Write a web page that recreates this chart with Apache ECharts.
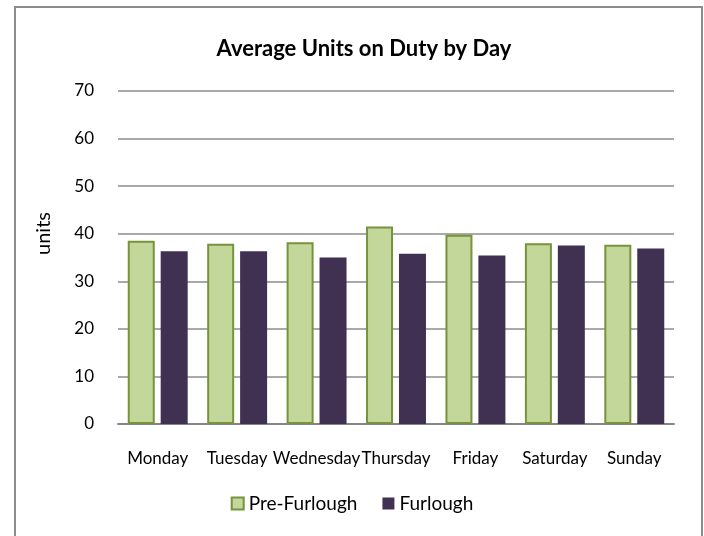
<!DOCTYPE html>
<html>
<head>
<meta charset="utf-8">
<script src="https://cdn.jsdelivr.net/npm/echarts@6/dist/echarts.min.js"></script>
<style>
  html, body { margin: 0; padding: 0; background: #fff; }
  #chart { width: 704px; height: 536px; }
</style>
</head>
<body>
<div id="chart"></div>
<script>
// data
var days = ['Monday', 'Tuesday', 'Wednesday', 'Thursday', 'Friday', 'Saturday', 'Sunday'];
var preFurlough = [38.5, 37.9, 38.2, 41.5, 39.8, 38.0, 37.7];
var furlough = [36.3, 36.3, 35.0, 35.8, 35.4, 37.5, 36.9];

var font = 'Lato';
var myChart = echarts.init(document.getElementById('chart'));

var option = {
  animation: false,
  backgroundColor: '#fff',
  graphic: [{
    type: 'rect',
    shape: { x: 15, y: 7, width: 687, height: 540 },
    style: { fill: 'none', stroke: '#8c8c8c', lineWidth: 2 }
  }],
  title: {
    text: 'Average Units on Duty by Day',
    left: 359,
    textAlign: 'center',
    top: 33,
    textStyle: { fontFamily: font, fontSize: 22, fontWeight: 'bold', color: '#000' }
  },
  legend: {
    bottom: 18,
    left: 'center',
    itemWidth: 12,
    itemHeight: 12,
    itemGap: 25,
    icon: 'rect',
    textStyle: { fontFamily: font, fontSize: 19, color: '#000' },
    data: ['Pre-Furlough', 'Furlough']
  },
  grid: { left: 118, right: 30, top: 91, bottom: 112, containLabel: false },
  xAxis: {
    type: 'category',
    data: days,
    axisLine: { lineStyle: { color: '#868686', width: 2 } },
    axisTick: { show: false },
    axisLabel: { fontFamily: font, fontSize: 17, color: '#000', margin: 26, interval: 0 }
  },
  yAxis: {
    type: 'value',
    min: 0,
    max: 70,
    interval: 10,
    name: 'units',
    nameLocation: 'middle',
    nameGap: 64,
    nameTextStyle: { fontFamily: font, fontSize: 20, color: '#000', padding: [0, 0, 0, 48] },
    axisLine: { show: false },
    axisTick: { show: false },
    axisLabel: { fontFamily: font, fontSize: 17, color: '#000', margin: 24 },
    splitLine: { lineStyle: { color: '#8c8c8c', width: 1.5 } }
  },
  series: [{
    name: 'Pre-Furlough',
    type: 'bar',
    data: preFurlough,
    barWidth: 27,
    barGap: '22%',
    itemStyle: { color: '#c4d79b', borderColor: '#77933c', borderWidth: 2 }
  }, {
    name: 'Furlough',
    type: 'bar',
    data: furlough,
    barWidth: 27,
    itemStyle: { color: '#403152' }
  }]
};

myChart.setOption(option);
</script>
</body>
</html>
